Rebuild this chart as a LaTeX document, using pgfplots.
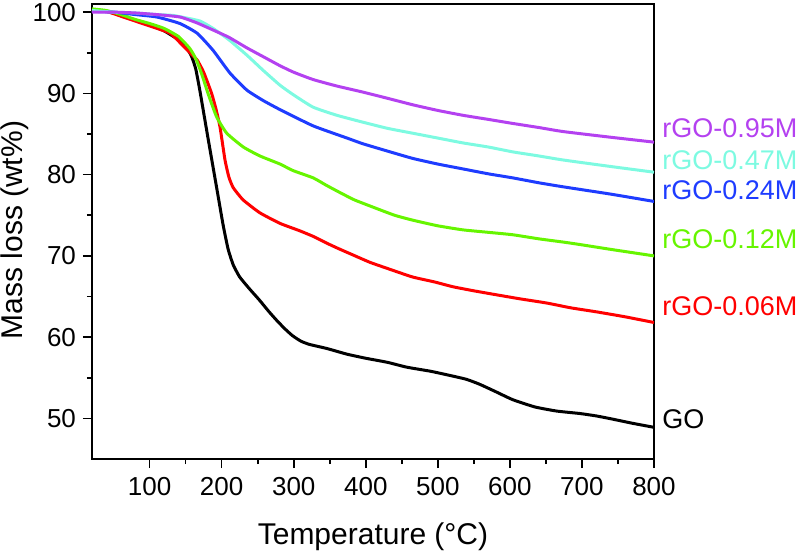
\documentclass[border=0pt]{standalone}
\usepackage{fontspec}
\setmainfont{Liberation Sans}
\usepackage{pgfplots}
\pgfplotsset{compat=1.18}
\definecolor{cgo}{RGB}{0,0,0}
\definecolor{c006}{RGB}{255,0,0}
\definecolor{c012}{RGB}{102,245,0}
\definecolor{c024}{RGB}{30,60,255}
\definecolor{c047}{RGB}{125,250,225}
\definecolor{c095}{RGB}{180,65,240}
\begin{document}
\begin{tikzpicture}
\useasboundingbox (-46pt,-47.5pt) rectangle (354pt,229.5pt);
\begin{axis}[
  at={(0pt,0pt)}, anchor=origin,
  scale only axis, width=281pt, height=227.5pt,
  xmin=20, xmax=800, ymin=45, ymax=101,
  xtick={100,200,...,800}, ytick={50,60,...,100},
  minor x tick num=1, minor y tick num=1,
  tick align=outside, xtick pos=bottom, ytick pos=left,
  major tick length=4.5pt, minor tick length=2.5pt,
  axis line style={line width=0.8pt}, every tick/.style={line width=0.8pt,black},
  tick label style={font=\fontsize{13}{15}\selectfont},
  /pgf/number format/assume math mode=true,
  xticklabel style={yshift=-1pt},
  label style={font=\fontsize{15}{18}\selectfont},
  xlabel={Temperature (°C)},
  ylabel={Mass loss (wt\%)},
  xlabel style={at={(axis description cs:0.5,-0.171)}, anchor=center},
  ylabel style={at={(axis description cs:-0.137,0.503)}, anchor=center, rotate=0},
  clip=false,
  every axis plot/.append style={line width=1.5pt, line join=round, smooth, tension=0.3},
]
\addplot[cgo] coordinates {(20,100.3)(40,100.1)(60,99.6)(80,99)(100,98.4)(120,97.7)(140,96.6)(150,95.8)(158,94.6)(164,93)(170,90.2)(181,84.5)(193,78.4)(202,73.8)(209,70.8)(216,68.9)(225,67.4)(239,65.9)(252,64.6)(265,63.2)(277,62)(288,61)(298,60.2)(310,59.5)(322,59.1)(346,58.6)(374,57.9)(400,57.4)(430,56.9)(457,56.3)(490,55.8)(521,55.2)(540,54.8)(558,54.2)(580,53.3)(604,52.3)(635,51.4)(665,50.9)(697,50.6)(720,50.3)(743,49.9)(770,49.4)(800,48.9)};
\addplot[c006] coordinates {(20,100.3)(40,100.1)(60,99.5)(80,98.9)(100,98.3)(120,97.7)(130,97.3)(146,95.9)(156,95)(166,94.1)(175,92.6)(186,90)(192,88.1)(197.6,85.9)(204.6,81.8)(210,79.7)(216,78.4)(229.6,76.9)(253,75.3)(281,74)(308,73.1)(327,72.4)(345,71.6)(362,70.9)(380,70.2)(406,69.2)(435,68.3)(465,67.4)(495,66.8)(521,66.2)(550,65.7)(582,65.2)(615,64.7)(651,64.2)(685,63.6)(721,63.1)(760,62.5)(800,61.8)};
\addplot[c012] coordinates {(20,100.4)(40,100.2)(60,99.7)(80,99.1)(100,98.6)(120,98)(140,97)(156,95.5)(165,94.1)(173,92.2)(181,90)(193,87.1)(207,85.1)(230,83.4)(253,82.3)(281,81.3)(299,80.5)(327,79.6)(345,78.7)(364,77.8)(384,76.9)(410,76)(440,75)(465,74.4)(500,73.7)(535,73.2)(570,72.9)(604,72.6)(640,72.1)(674,71.7)(697,71.4)(740,70.8)(770,70.4)(800,70.0)};
\addplot[c024] coordinates {(20,100.1)(50,100)(80,99.7)(110,99.4)(142,98.6)(166,97.4)(188,95.3)(211.5,92.5)(235,90.4)(258,89.1)(281,88)(327,86)(374,84.5)(396,83.8)(430,82.9)(465,82)(500,81.3)(535,80.7)(570,80.1)(604,79.6)(640,79)(674,78.5)(740,77.6)(800,76.7)};
\addplot[c047] coordinates {(20,100.2)(50,100)(80,99.9)(110,99.7)(132,99.6)(150,99.3)(170,98.9)(188,98)(210,96.6)(235,94.7)(258,92.8)(281,91)(300,89.8)(327,88.3)(360,87.3)(394,86.5)(430,85.7)(465,85.1)(500,84.5)(535,83.9)(570,83.4)(604,82.8)(640,82.3)(674,81.8)(740,81)(800,80.3)};
\addplot[c095] coordinates {(20,100)(50,100)(80,99.9)(110,99.7)(142,99.4)(165,98.7)(188,97.8)(210,96.9)(235,95.6)(258,94.5)(281,93.4)(300,92.6)(327,91.7)(360,90.9)(394,90.2)(430,89.4)(465,88.6)(500,87.9)(535,87.3)(570,86.8)(604,86.3)(640,85.8)(674,85.3)(740,84.6)(800,84)};
\begin{scope}[every node/.style={anchor=west, inner sep=0pt, xshift=4pt, font=\fontsize{13.5}{16}\selectfont}]
\node[text=c095] at (axis cs:800,85.75) {rGO-0.95M};
\node[text=c047] at (axis cs:800,81.8) {rGO-0.47M};
\node[text=c024] at (axis cs:800,78.1) {rGO-0.24M};
\node[text=c012] at (axis cs:800,72.0) {rGO-0.12M};
\node[text=c006] at (axis cs:800,63.8) {rGO-0.06M};
\node[text=cgo] at (axis cs:800,49.9) {GO};
\end{scope}
\end{axis}
\end{tikzpicture}
\end{document}
